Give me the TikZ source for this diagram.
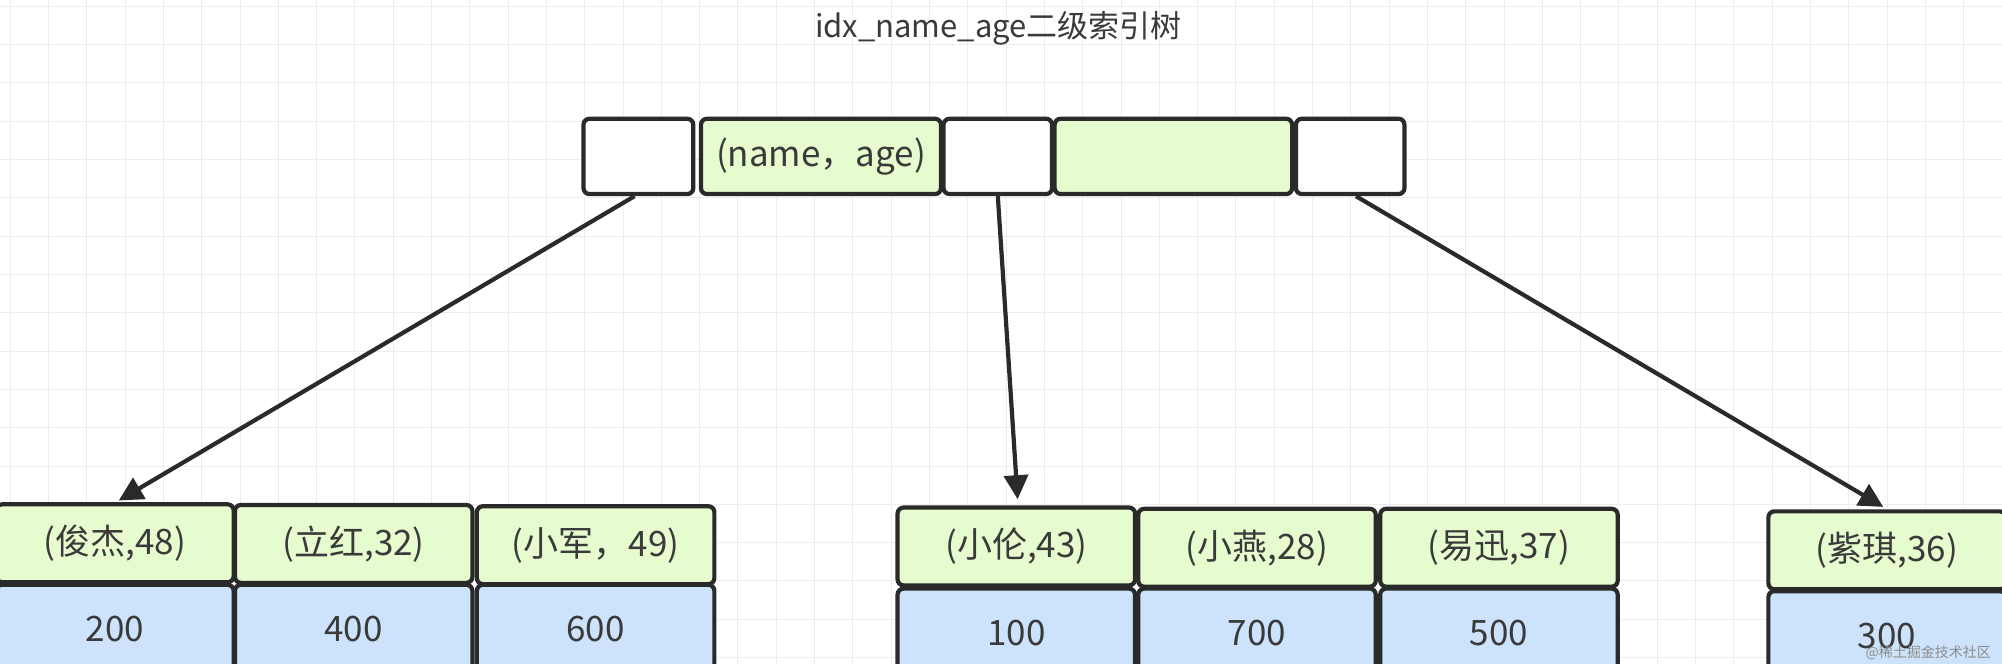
\documentclass[tikz,border=0pt]{standalone}
\usepackage{fontspec}
\setmainfont{Noto Sans CJK SC}
\usetikzlibrary{arrows.meta}
\definecolor{gfill}{HTML}{E6FCCF}
\definecolor{bfill}{HTML}{CCE3FB}
\definecolor{edge}{HTML}{2A2A2A}
\definecolor{txt}{HTML}{3A3A3A}
\tikzset{
 cell/.style={draw=edge,line width=4.2pt,rounded corners=6pt,inner sep=0pt,text=txt,font=\fontsize{35}{35}\selectfont},
 gcell/.style={cell,fill=gfill},
 bcell/.style={cell,fill=bfill},
 wcell/.style={cell,fill=white},
 arr/.style={draw=edge,line width=4.2pt,-{Triangle[length=24pt,width=24pt]}}
}
\begin{document}
\begin{tikzpicture}[x=1.2768pt,y=-1.2768pt]
\useasboundingbox (0,0) rectangle (1568,520);
\clip (0,0) rectangle (1568,520);
\fill[white] (0,0) rectangle (1568,520);
\foreach \i in {0,...,52} {\draw[black!7,line width=1pt] (\i*30+8,0) -- (\i*30+8,520);}
\foreach \i in {0,...,18} {\draw[black!7,line width=1pt] (0,\i*30+5) -- (1568,\i*30+5);}
\node[text=txt,font=\fontsize{31}{31}\selectfont] (title) at (782,22) {idx\_name\_age二级索引树};
% top
\node[wcell,minimum width=86*1.2768pt,minimum height=59*1.2768pt] (t1) at (500,122.5) {};
\node[gcell,minimum width=188*1.2768pt,minimum height=59*1.2768pt] (t2) at (643,122.5) {(name，age)};
\node[wcell,minimum width=85*1.2768pt,minimum height=59*1.2768pt] (t3) at (781.5,122.5) {};
\node[gcell,minimum width=186*1.2768pt,minimum height=59*1.2768pt] (t4) at (919,122.5) {};
\node[wcell,minimum width=85*1.2768pt,minimum height=59*1.2768pt] (t5) at (1057.5,122.5) {};
\tikzset{lw/.style={minimum width=186*1.2768pt,minimum height=61*1.2768pt}}
% group 1
\node[gcell,lw] (a1) at (90,425.5) {(俊杰,48)};
\node[gcell,lw] (a2) at (277,426) {(立红,32)};
\node[gcell,lw] (a3) at (466.5,427) {(小军，49)};
\node[bcell,lw,minimum height=70*1.2768pt] (b1) at (90,493) {200};
\node[bcell,lw,minimum height=70*1.2768pt] (b2) at (277,493) {400};
\node[bcell,lw,minimum height=70*1.2768pt] (b3) at (466.5,493) {600};
% group 2
\node[gcell,lw] (a4) at (796,428) {(小伦,43)};
\node[gcell,lw] (a5) at (984.5,429) {(小燕,28)};
\node[gcell,lw] (a6) at (1174,429) {(易迅,37)};
\node[bcell,lw,minimum height=70*1.2768pt] (b4) at (796,496) {100};
\node[bcell,lw,minimum height=70*1.2768pt] (b5) at (984.5,496) {700};
\node[bcell,lw,minimum height=70*1.2768pt] (b6) at (1174,496) {500};
% group 3
\node[gcell,lw] (a7) at (1478,431) {(紫琪,36)};
\node[bcell,lw,minimum height=70*1.2768pt] (b7) at (1478,498) {300};
\coordinate (e1) at (93,392);
\coordinate (e2) at (797,391);
\coordinate (e3) at (1475,397);
\draw[arr] (t1.south) ++(-3,0) -- (e1);
\draw[arr] (t3.south) -- (e2);
\draw[arr] (t5.south) ++(4.5,0) -- (e3);
\node[text=black!45,font=\fontsize{14}{14}\selectfont,anchor=east] (wm) at (1562,511) {@稀土掘金技术社区};
\end{tikzpicture}
\end{document}
